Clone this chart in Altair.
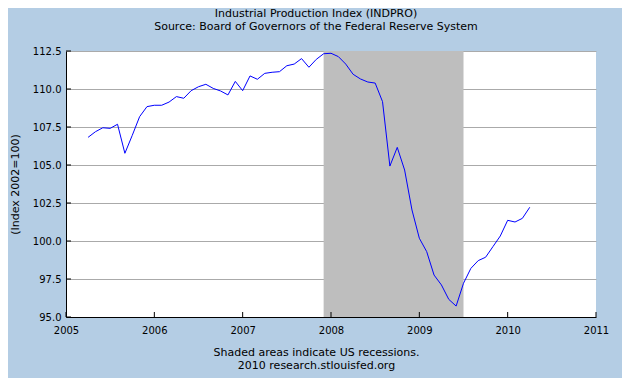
import altair as alt
import pandas as pd

# Monthly Industrial Production Index, Apr 2005 - Apr 2010 (2002=100)
start_year = 2005
start_month = 4
values = [
    106.82, 107.19, 107.45, 107.41, 107.68, 105.77, 106.95, 108.18, 108.84,  # 2005 Apr-Dec
    108.93, 108.93, 109.14, 109.50, 109.39, 109.89, 110.15, 110.31, 110.04, 109.87, 109.61, 110.50,  # 2006
    109.89, 110.86, 110.64, 111.03, 111.10, 111.14, 111.53, 111.64, 112.00, 111.43, 111.95, 112.32,  # 2007
    112.35, 112.13, 111.64, 110.97, 110.66, 110.46, 110.39, 109.17, 104.93, 106.16, 104.67, 102.04,  # 2008
    100.18, 99.30, 97.76, 97.11, 96.16, 95.72, 97.22, 98.20, 98.71, 98.93, 99.63, 100.33,  # 2009
    101.36, 101.25, 101.49, 102.22,  # 2010 Jan-Apr
]

recession_start = [2007 + 11 / 12]   # Dec 2007
recession_end = [2009 + 6 / 12]      # end of Jun 2009

x_ticks = [2005, 2006, 2007, 2008, 2009, 2010, 2011]
y_ticks = [95.0, 97.5, 100.0, 102.5, 105.0, 107.5, 110.0, 112.5]

title_lines = ["Industrial Production Index (INDPRO)",
               "Source: Board of Governors of the Federal Reserve System"]
footer_lines = ["Shaded areas indicate US recessions.",
                "2010 research.stlouisfed.org"]
y_title = "(Index 2002=100)"

# ---- tables ----
t = []
for i in range(len(values)):
    m = start_month - 1 + i
    t.append(start_year + m // 12 + (m % 12) / 12)
df = pd.DataFrame({"t": t, "v": values})
rec = pd.DataFrame({"t": recession_start, "t2": recession_end})
xt = pd.DataFrame({"t": x_ticks})
yt = pd.DataFrame({"v": y_ticks})

FONT = "DejaVu Sans"
W, H = 530, 266

xscale = alt.Scale(domain=[2005, 2011], nice=False, zero=False)
yscale = alt.Scale(domain=[95, 112.5], nice=False, zero=False)

xaxis = alt.Axis(
    values=x_ticks, format="d", ticks=False, tickSize=0, grid=False,
    domainColor="black", domainWidth=1, labelFont=FONT, labelFontSize=10,
    labelColor="black", labelPadding=8, labelFlush=False, labelOverlap=False,
    title=footer_lines, titleFont=FONT, titleFontSize=11, titleFontWeight="normal",
    titleColor="black", titleX=250, titleY=35, titleBaseline="middle",
    titleAlign="center", titleLineHeight=13.3,
)
yaxis = alt.Axis(
    values=y_ticks, format=".1f", ticks=False, tickSize=0, grid=True,
    gridColor="#AAAAAA", gridWidth=1, domainColor="black", domainWidth=1,
    labelFont=FONT, labelFontSize=10, labelColor="black", labelPadding=5,
    title=y_title, titleFont=FONT, titleFontSize=11, titleFontWeight="normal",
    titleColor="black", titleX=-51, titleY=H / 2, titleBaseline="middle",
    titleAlign="center", titleAngle=270,
)

X = alt.X("t:Q", scale=xscale, axis=xaxis)
Y = alt.Y("v:Q", scale=yscale, axis=yaxis)

shade = alt.Chart(rec).mark_rect(color="#BEBEBE", opacity=1).encode(
    x=X, x2="t2:Q"
)
line = alt.Chart(df).mark_line(color="#0000FF", strokeWidth=1).encode(x=X, y=Y)
xtick = alt.Chart(xt).mark_rule(color="black", strokeWidth=1).encode(
    x=X, y=alt.value(H), y2=alt.value(H - 5)
)
ytick = alt.Chart(yt).mark_rule(color="black", strokeWidth=1).encode(
    y=Y, x=alt.value(0), x2=alt.value(5)
)

chart = (
    alt.layer(shade, line, xtick, ytick)
    .properties(
        width=W, height=H,
        autosize=alt.AutoSizeParams(type="none"),
        padding={"left": 58, "top": 43, "right": 26, "bottom": 61},
        background="#B4CDE4",
        title=alt.TitleParams(
            text=title_lines, font=FONT, fontSize=11, fontWeight="normal",
            color="black", anchor="middle", dx=-15, offset=14, lineHeight=13.3,
        ),
    )
    .configure_view(fill="white", strokeWidth=0)
)

chart.save("out.html", embed_options={"renderer": "svg", "actions": False})
